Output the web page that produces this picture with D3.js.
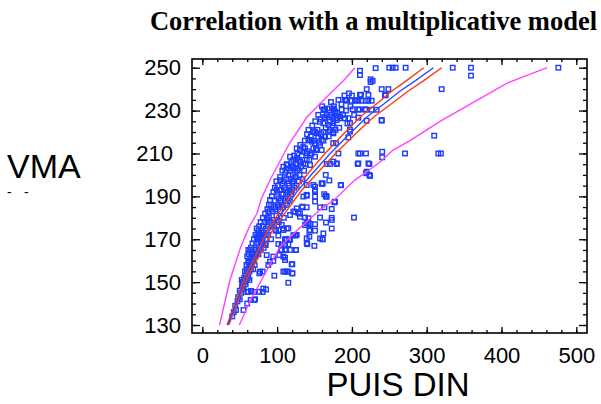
<!DOCTYPE html>
<html>
<head>
<meta charset="utf-8">
<script src="https://cdn.jsdelivr.net/npm/d3@7"></script>
<style>
  body { margin: 0; background: #fff; }
  .axis text { font-family: "Liberation Sans", Arial, sans-serif; font-size: 22px; fill: #000; }
  .axis path { display: none; }
  .axis line { stroke: #000; stroke-width: 1.3; }
</style>
</head>
<body>
<svg id="chart" width="601" height="404"></svg>
<script>
// tick labels
var xTicks = [0, 100, 200, 300, 400, 500];
var yTicks = [130, 150, 170, 190, 210, 230, 250];

var lowCluster = [[40,134],[42,136],[44,139],[45,137],[47,141],[48,143],[50,142],[50,146],[52,145],[53,148],[54,150],[55,147],[55,137],[60,140],[64.7,141.7],[69.5,141.7],[70.5,142],[60.2,145.4],[65.1,145.9],[69.5,145.4],[61.5,145.5],[76.2,145.5],[80.7,145.4],[81.6,147],[85.2,146.6],[76.2,154.1],[80.7,154.9],[77.1,154.9],[88.2,158],[94.9,161.9],[94.9,159.9],[86.1,162.6],[90.5,159.5],[84.8,167.3],[96.3,153],
  [56,150],[58,153],[60,156],[61,152],[62,159],[63,155],[64,161],[66,158],[67,163],[68,160],[70,165],[71,162],[72,168],[73,164],[74,170],[76,166],[77,172],[78,169],[79,174],[80,171],[81,176],[82,173],[83,178],[85,175],[87,179],
  [63.8,165],[61.5,159.5],[66,158.8],[59.4,155.7],[61.5,154],[59.4,151.6],[57.2,150],[63.8,157.2],[68.2,161.9],[66,163.5],[70.5,165],[74.9,168.2],[77.1,170.5],[79.4,172],[74.9,172.8],[52.7,151],[61.5,165],[72.7,175],[88.2,182.8],
  [54,148],[56,152],[57,155],[58,149],[59,158],[60,162],[62,163],[63,151],[65,156],[65,166],[67,168],[68,156],[69,170],[70,158],[71,172],[72,163],[73,171],[75,174],[75,163],[76,176],[78,178],[78,165],[80,168],[81,180],[82,166],[84,182],[85,170],[86,180],[87,184],[88,172],[89,186]];

var midCluster = [[84,168],[86,172],[88,176],[89,180],[90,183],[92,170],[93,176],[95,179],[96,185],[97,188],[98,174],[99,181],[100,190],[101,186],[102,178],[103,193],[104,183],[105,188],[106,191],[107,196],[108,185],[109,180],[110,194],[111,189],[112,198],[113,186],[114,192],[115,200],[116,195],[117,188],[118,202],[119,191],[120,197],[121,200],[123,194],[125,199],[127,202],[129,197],[90.5,188.3],[99.5,193],[104,197.6],
  [108.4,203.8],[112.8,204.6],[119.5,203.8],[124,203],[117.3,208.5],[121.7,207],[126.2,207.7],[130.6,206.2],[135.1,205.4],[126.2,212.4],[130.6,211.6],[135.1,210.8],[121.7,203.8],
  [91,178],[92,186],[93,190],[94,183],[95,192],[96,177],[97,194],[98,184],[99,197],[100,179],[101,195],[102,189],[103,185],[104,199],[105,193],[106,186],[107,202],[108,191],[109,197],[110,188],[111,201],[112,193],[113,205],[114,189],[115,196],[116,203],[117,192],[118,198],[119,206],[120,193],[121,204],[122,197],[123,209],[124,199],[125,205],[126,195],[127,210],[128,203],[129,207],[130,200],[131,214],[132,204],[133,209],[134,198],[135,213],[136,202],
  [108.3,154.9],[112.8,154.9],[120.3,154.1],[115,149.7],[120.3,158.4],[110.6,160.3],[108.3,161.9],[105.2,165],[124,171.7],[110.6,170],[115.9,170],[101.6,167.8],[101.6,171.7],[108.3,174.3],[98.5,174.3],[103,162.6],[111.9,165],[106.1,165],[117.2,165],[125.3,165],[126.2,172],[111.9,170],[115,167.6],[124,182.8],[130.6,182],[117.3,181.3],[108.4,175],[112.8,175],[101.7,174.3],[121.7,171.9],[126.2,184.4],[130.6,180.5],[133.7,185.2]];

var upperCluster = [[139.6,210],[144,209.3],[150.7,208.5],[139.6,207],[144,204.6],[141.8,216.3],[146.2,215.5],[150.7,214.7],[157.4,213.9],[148.5,212.4],[152.9,211.6],[159.6,211.6],[148.5,220.2],[152.9,219.4],[155.1,217.8],[159.6,216.3],[164.1,217.8],[157.4,224.8],[161.8,224.1],[168.5,223.3],[170.7,220.9],[175.2,219.4],[164.1,230.3],[166.3,227.9],[164.1,226.4],[173,227.2],[170.7,224.8],[175.2,224.1],[179.7,225.6],[144,216.3],[148.4,220.2],[161.8,230.3],[175,231],[190.8,235],[163,230.6],[177.4,228.7],[184,226.4],[190.8,226.4],[150.7,220],[161.8,220],[168.5,220],[175,220],[137.3,212.4],[175.2,230.4],[177.4,229.6],[186.3,230.4],[175.2,226.5],[179.6,226.5],[184,227.3],[197.4,224.2],[197.4,221.1],[175,214.8],[178.7,214.8],[195.2,217.5],[195.3,226.4],[208.6,226.7],[197.5,220.2],
  [137,216],[138,205],[140,219],[141,211],[142,221],[143,207],[145,218],[146,210],[147,223],[149,216],[151,225],[152,212],[154,221],[155,228],[156,215],[158,226],[159,219],[160,232],[162,216],[163,227],[165,222],[167,231],[169,218],[171,228],[172,234],[174,223],[176,232],[178,221],[180,229],[182,235],[183,222],[186,233],[188,228],[190,237],[192,230],[194,224],[196,238],[198,232],[200,237],[203,228]];

var topRows = [[192,234.6],[199.7,234.6],[204.1,234.6],[208.6,234.6],[213.1,234.6],[218.4,234.6],[222,234.6],[226.4,234.6],[193,234.9],[206.4,234.9],[210.8,237.3],[222,237.3],[212.1,237.4],[244.2,237.1],[201,230.6],[208.6,230.6],[217.5,230.6],[209.9,230.4],[218.8,230.4],[226.4,230.4],[233.1,230.4],[219.7,225.3],[239.8,225.3],[210.8,248.6],[210.8,246.6],[231.7,249.8],[250,250],[254.5,250],[258.5,250],[271.8,250],[225,244.6],[225,243.3],[227.7,243.9],[219.8,240],[239.8,240],[248.7,240],[245.2,237.3],[320,240],[334.8,250],[359.2,250],[359.2,246.3],[476,250],[240.5,210.8],[240.5,208.2],[271,210],[315.5,210],[319,210],[310,218.3],[239.8,225.6]];

var outliers = [[166.3,205.1],[170.7,205.1],[179.7,205.1],[207.7,205.1],[223.3,205.1],[223.3,200],[218.9,200.8],[165,200],[169.8,197.4],[160,195.8],[185.4,195.2],[139.5,195.3],[148.5,195.3],[150.7,193],[150.7,189.9],[150.7,187.6],[139.5,190.7],[135.1,189.9],[165.4,190.2],[176.5,187.2],[157.4,184.9],[163.2,184.9],[173,184.1],[133.8,184.9],[139.5,184.9],[121.7,182.9],[128.4,182.1],[137.3,180.1],[141.8,179.8],[157.4,180.1],[173,179],[202.8,180.1],[144,177.1],[139.5,177.5],[165.4,177.8],[150.7,177],[115,175.1],[106.1,176.7],[143.1,174],[150.7,174],[143.1,171.2],[160.5,170],[125.3,172],[112.8,169.7],[117.3,169.7],[106.1,167.3],[110.6,167.3],[140.4,167.7],[149.8,166.9],[125.3,165],[110.6,165],[110.6,161.4],[119.5,158.3],[110.6,154.9],[115,154.9],[120.4,154.1],[159.6,196.1],[179.7,205.4],[185,195.3],[166.3,189.8],[177.4,187.5],[173,175],[161.8,172.7],[144,174.3],[137.3,176.6],[139.6,170.4],[157.4,170.4],[141.8,177.4],[139.6,168.1],[161,170],[163,191],[173,180],[219.8,201.5],[224.2,199.5],[208.6,210],[210.8,210],[218.8,210],[161,196],[150.7,194.5],[150.7,192.3],[139.6,190.3],[165,190],[181.9,210],[208.6,205.4],[222,205.4],[175.2,206.2]];

// fitted model and bands
var fitLine = [[34,130],[45,140],[59,152.5],[70,160],[82,169],[90,174],[104,181],[126,192],[148,201],[171,210],[198,219.5],[220,227],[246,234],[264,239],[285,244],[309,250]];
var confUpper = [[33,130],[44,140],[57,152.5],[68,160],[79,168],[87,174],[100,181],[121,192],[142,201],[164,210],[190,219.5],[211,227],[236,234],[253,239],[273,244],[296,250]];
var confLower = [[35.5,130],[46.5,140],[61,152.5],[72.5,160],[85,168],[93.5,174],[108,181],[131,192],[154,201],[178,210],[206,219.5],[229,227],[256,234],[275,239],[296,244],[320,250]];
var predUpper = [[23,130],[37,151],[51,166],[63,176],[73,182],[79,189],[91,198],[117,215],[140,227],[171,238],[189,244],[204,250]];
var predLower = [[49.5,130],[65,142],[81.5,152.5],[104,166.5],[126,174],[157,183.6],[175,188],[204,197.6],[220,201.5],[237.6,206],[255,211.6],[277.7,216],[317.8,225],[360,233.4],[407,242.7],[461,250]];

var svg = d3.select("#chart");
var plotLeft = 192, plotRight = 587, plotTop = 59, plotBottom = 333;

var xScale = d3.scaleLinear().domain([-13.8, 514.3]).range([plotLeft, plotRight]);
var yScale = d3.scaleLinear().domain([126.27, 254.06]).range([plotBottom, plotTop]);

var xMinor = d3.range(0, 501, 20);
var yMinor = d3.range(130, 251, 5);

function addAxis(axis, tx, ty, cls){
  return svg.append("g")
    .attr("class", "axis " + cls)
    .attr("transform", "translate(" + tx + "," + ty + ")")
    .call(axis);
}

// bottom
addAxis(d3.axisBottom(xScale).tickValues(xMinor).tickSize(-3).tickFormat(""), 0, plotBottom, "minor");
addAxis(d3.axisBottom(xScale).tickValues(xTicks).tickSize(-6).tickPadding(14).tickFormat(d3.format("d")), 0, plotBottom, "x-labels");
// top
addAxis(d3.axisTop(xScale).tickValues(xMinor).tickSize(-3).tickFormat(""), 0, plotTop, "minor");
addAxis(d3.axisTop(xScale).tickValues(xTicks).tickSize(-6).tickFormat(""), 0, plotTop, "minor");
// left
addAxis(d3.axisLeft(yScale).tickValues(yMinor).tickSize(-4).tickFormat(""), plotLeft, 0, "minor");
var yAxisG = addAxis(d3.axisLeft(yScale).tickValues(yTicks).tickSize(-8).tickPadding(11).tickFormat(d3.format("d")), plotLeft, 0, "y-labels");
// the 210 label sits a little further left in the original
yAxisG.selectAll("text").filter(function(d){ return d === 210; }).attr("dx", -8);
// right
addAxis(d3.axisRight(yScale).tickValues(yMinor).tickSize(-4).tickFormat(""), plotRight, 0, "minor");
addAxis(d3.axisRight(yScale).tickValues(yTicks).tickSize(-8).tickFormat(""), plotRight, 0, "minor");

// frame
svg.append("rect")
  .attr("x", plotLeft).attr("y", plotTop)
  .attr("width", plotRight - plotLeft).attr("height", plotBottom - plotTop)
  .attr("fill", "none").attr("stroke", "#000").attr("stroke-width", 1.6);

// points
var allPoints = lowCluster.concat(midCluster, upperCluster, topRows, outliers);
svg.append("g").selectAll(".point")
  .data(allPoints)
  .enter().append("rect")
  .attr("class", "point")
  .attr("x", function(d){ return xScale(d[0]) - 2.25; })
  .attr("y", function(d){ return yScale(d[1]) - 2.25; })
  .attr("width", 4.5).attr("height", 4.5)
  .attr("fill", "none")
  .attr("stroke", "#1e3cff")
  .attr("stroke-width", 1.4);

var line = d3.line()
  .x(function(d){ return xScale(d[0]); })
  .y(function(d){ return yScale(d[1]); });

function drawCurve(data, color){
  svg.append("path")
    .datum(data)
    .attr("d", line)
    .attr("fill", "none")
    .attr("stroke", color)
    .attr("stroke-width", 1.4);
}
drawCurve(predUpper, "#ff44ff");
drawCurve(predLower, "#ff44ff");
drawCurve(confUpper, "#ff3a10");
drawCurve(confLower, "#ff3a10");
drawCurve(fitLine, "#2a4cff");

// titles
svg.append("text")
  .attr("x", 373.5).attr("y", 29.5)
  .attr("text-anchor", "middle")
  .style("font-family", "'Liberation Serif', 'Times New Roman', serif")
  .style("font-weight", "bold")
  .style("font-size", "26.5px")
  .text("Correlation with a multiplicative model");

svg.append("text")
  .attr("x", 398).attr("y", 396)
  .attr("text-anchor", "middle")
  .style("font-family", "'Liberation Sans', Arial, sans-serif")
  .style("font-size", "33px")
  .text("PUIS DIN");

svg.append("text")
  .attr("x", 7).attr("y", 178)
  .style("font-family", "'Liberation Sans', Arial, sans-serif")
  .style("font-size", "34px")
  .text("VMA");

svg.selectAll(".ylabel-dash")
  .data([7, 24])
  .enter().append("text")
  .attr("class", "ylabel-dash")
  .attr("x", function(d){ return d; }).attr("y", 197)
  .style("font-family", "'Liberation Sans', Arial, sans-serif")
  .style("font-size", "14px")
  .text("-");
</script>
</body>
</html>
